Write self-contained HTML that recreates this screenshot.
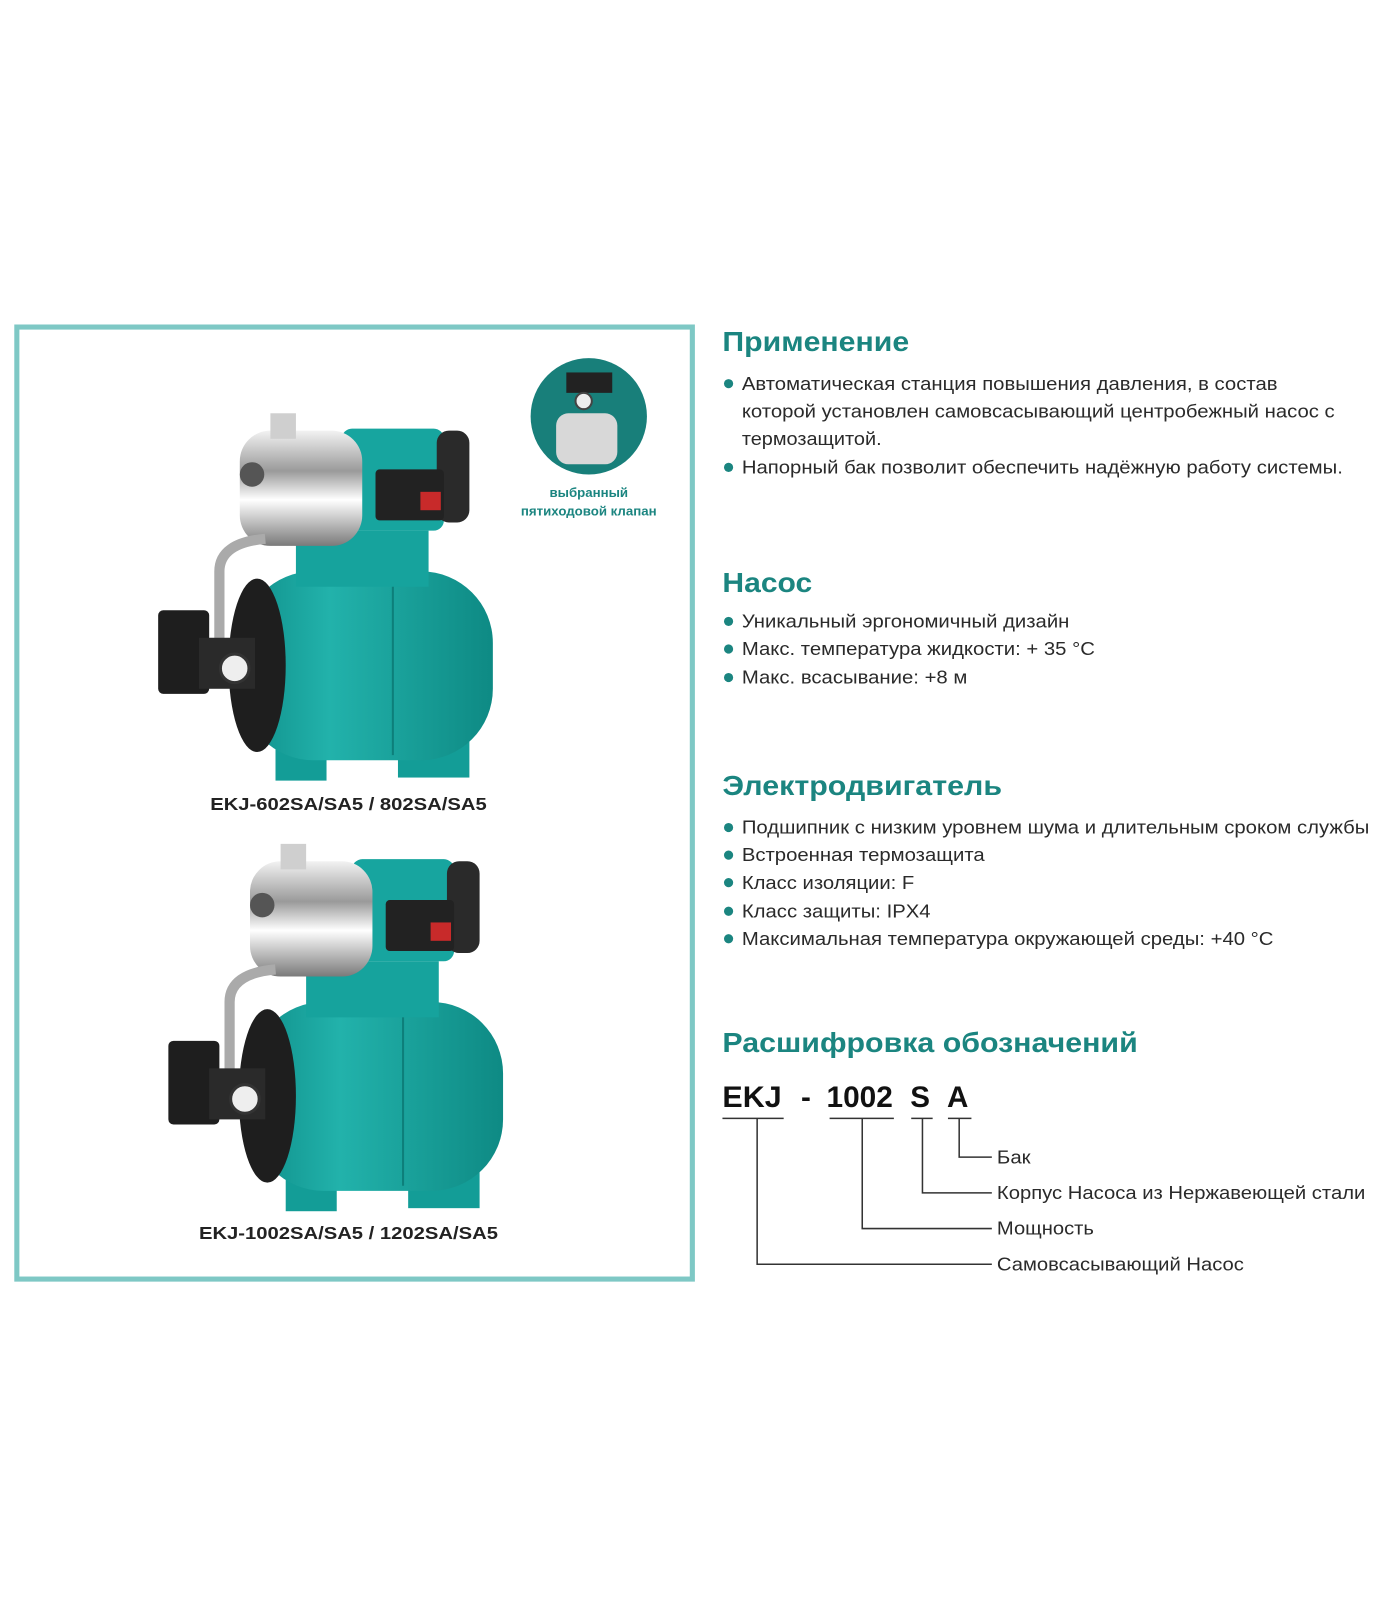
<!DOCTYPE html>
<html><head><meta charset="utf-8"><style>
html,body{margin:0;padding:0;background:#fff;}
svg{display:block;font-family:"Liberation Sans",sans-serif;}
.h{font-weight:bold;font-size:27px;fill:#1b8580;}
.b{font-size:18px;fill:#2a2a2a;}
.l{font-size:18px;fill:#2a2a2a;}
</style></head><body>
<svg width="1400" height="1600" viewBox="0 0 1372 1568" preserveAspectRatio="none" xmlns="http://www.w3.org/2000/svg">
<defs>
<linearGradient id="steel" x1="0" y1="0" x2="0" y2="1">
<stop offset="0" stop-color="#f2f2f2"/><stop offset="0.35" stop-color="#9a9a9a"/><stop offset="0.6" stop-color="#ffffff"/><stop offset="1" stop-color="#7a7a7a"/></linearGradient>
<linearGradient id="tank" x1="0" y1="0" x2="1" y2="0">
<stop offset="0" stop-color="#0f8f8a"/><stop offset="0.35" stop-color="#22b2ab"/><stop offset="1" stop-color="#0e8a84"/></linearGradient>
<g id="pump">
<rect x="130" y="300" width="50" height="65" fill="#139d97"/>
<rect x="250" y="300" width="70" height="62" fill="#139d97"/>
<rect x="97" y="160" width="246" height="185" rx="70" fill="url(#tank)"/>
<line x1="245" y1="165" x2="245" y2="340" stroke="#0d7f7a" stroke-width="2"/>
<rect x="150" y="120" width="130" height="55" fill="#16a39d"/>
<rect x="195" y="20" width="100" height="100" rx="10" fill="#17a59f"/>
<rect x="288" y="22" width="32" height="90" rx="12" fill="#2a2a2a"/>
<rect x="228" y="60" width="67" height="50" rx="4" fill="#222"/>
<rect x="272" y="82" width="20" height="18" fill="#c82a2a"/>
<rect x="95" y="22" width="120" height="113" rx="30" fill="url(#steel)"/>
<rect x="125" y="5" width="25" height="25" fill="#cfcfcf"/>
<circle cx="107" cy="65" r="12" fill="#555"/>
<path d="M120 128 Q75 132 75 160 L75 235" stroke="#aaa" stroke-width="10" fill="none"/>
<ellipse cx="112" cy="252" rx="28" ry="85" fill="#1e1e1e"/>
<rect x="15" y="198" width="50" height="82" rx="5" fill="#1e1e1e"/>
<rect x="55" y="225" width="55" height="50" fill="#2a2a2a"/>
<circle cx="90" cy="255" r="14" fill="#eee" stroke="#333" stroke-width="3"/>
</g>
</defs>

<rect x="16.5" y="320.5" width="662" height="933" fill="#fff" stroke="#7ec8c5" stroke-width="5"/>

<use href="#pump" transform="translate(140,400)"/>
<use href="#pump" transform="translate(150,822)"/>

<circle cx="577" cy="408" r="57" fill="#187f7a"/>
<rect x="545" y="405" width="60" height="50" rx="12" fill="#d8d8d8"/>
<rect x="555" y="365" width="45" height="20" fill="#222"/>
<circle cx="572" cy="393" r="8" fill="#eee" stroke="#444" stroke-width="2"/>
<text x="577" y="487" text-anchor="middle" font-weight="bold" font-size="13" fill="#1b8580">выбранный</text>
<text x="577" y="505" text-anchor="middle" font-weight="bold" font-size="13" fill="#1b8580">пятиходовой клапан</text>

<text x="206" y="794" font-weight="bold" font-size="17" fill="#222" textLength="271" lengthAdjust="spacingAndGlyphs">EKJ-602SA/SA5 / 802SA/SA5</text>
<text x="195" y="1214" font-weight="bold" font-size="17" fill="#222" textLength="293" lengthAdjust="spacingAndGlyphs">EKJ-1002SA/SA5 / 1202SA/SA5</text>

<g fill="#1b8580">
<circle cx="714" cy="376" r="4.5"/><circle cx="714" cy="458" r="4.5"/>
<circle cx="714" cy="609" r="4.5"/><circle cx="714" cy="636" r="4.5"/><circle cx="714" cy="664" r="4.5"/>
<circle cx="714" cy="811" r="4.5"/><circle cx="714" cy="838" r="4.5"/><circle cx="714" cy="865" r="4.5"/><circle cx="714" cy="893" r="4.5"/><circle cx="714" cy="920" r="4.5"/>
</g>

<text class="h" x="708" y="344" textLength="183" lengthAdjust="spacingAndGlyphs">Применение</text>
<text class="b" x="727" y="382" textLength="525" lengthAdjust="spacingAndGlyphs">Автоматическая станция повышения давления, в состав</text>
<text class="b" x="727" y="409" textLength="581" lengthAdjust="spacingAndGlyphs">которой установлен самовсасывающий центробежный насос с</text>
<text class="b" x="727" y="436" textLength="137" lengthAdjust="spacingAndGlyphs">термозащитой.</text>
<text class="b" x="727" y="464" textLength="589" lengthAdjust="spacingAndGlyphs">Напорный бак позволит обеспечить надёжную работу системы.</text>

<text class="h" x="708" y="580" textLength="88" lengthAdjust="spacingAndGlyphs">Насос</text>
<text class="b" x="727" y="615" textLength="321" lengthAdjust="spacingAndGlyphs">Уникальный эргономичный дизайн</text>
<text class="b" x="727" y="642" textLength="346" lengthAdjust="spacingAndGlyphs">Макс. температура жидкости: + 35 °C</text>
<text class="b" x="727" y="670" textLength="221" lengthAdjust="spacingAndGlyphs">Макс. всасывание: +8 м</text>

<text class="h" x="708" y="779" textLength="274" lengthAdjust="spacingAndGlyphs">Электродвигатель</text>
<text class="b" x="727" y="817" textLength="615" lengthAdjust="spacingAndGlyphs">Подшипник с низким уровнем шума и длительным сроком службы</text>
<text class="b" x="727" y="844" textLength="238" lengthAdjust="spacingAndGlyphs">Встроенная термозащита</text>
<text class="b" x="727" y="871" textLength="169" lengthAdjust="spacingAndGlyphs">Класс изоляции: F</text>
<text class="b" x="727" y="899" textLength="185" lengthAdjust="spacingAndGlyphs">Класс защиты: IPX4</text>
<text class="b" x="727" y="926" textLength="521" lengthAdjust="spacingAndGlyphs">Максимальная температура окружающей среды: +40 °C</text>

<text class="h" x="708" y="1031" textLength="407" lengthAdjust="spacingAndGlyphs">Расшифровка обозначений</text>
<g font-weight="bold" font-size="29" fill="#111">
<text x="708" y="1085" textLength="58" lengthAdjust="spacingAndGlyphs">EKJ</text>
<text x="785" y="1085">-</text>
<text x="810" y="1085" textLength="65" lengthAdjust="spacingAndGlyphs">1002</text>
<text x="892" y="1085">S</text>
<text x="928" y="1085">A</text>
</g>
<g stroke="#333" stroke-width="1.5" fill="none">
<line x1="708" y1="1096" x2="768" y2="1096"/><line x1="813" y1="1096" x2="876" y2="1096"/>
<line x1="893" y1="1096" x2="914" y2="1096"/><line x1="929" y1="1096" x2="952" y2="1096"/>
<polyline points="940,1096 940,1134 972,1134"/>
<polyline points="904,1096 904,1169 972,1169"/>
<polyline points="845,1096 845,1204 972,1204"/>
<polyline points="742,1096 742,1239 972,1239"/>
</g>
<text class="l" x="977" y="1140" textLength="33" lengthAdjust="spacingAndGlyphs">Бак</text>
<text class="l" x="977" y="1175" textLength="361" lengthAdjust="spacingAndGlyphs">Корпус Насоса из Нержавеющей стали</text>
<text class="l" x="977" y="1210" textLength="95" lengthAdjust="spacingAndGlyphs">Мощность</text>
<text class="l" x="977" y="1245" textLength="242" lengthAdjust="spacingAndGlyphs">Самовсасывающий Насос</text>
</svg>
</body></html>
